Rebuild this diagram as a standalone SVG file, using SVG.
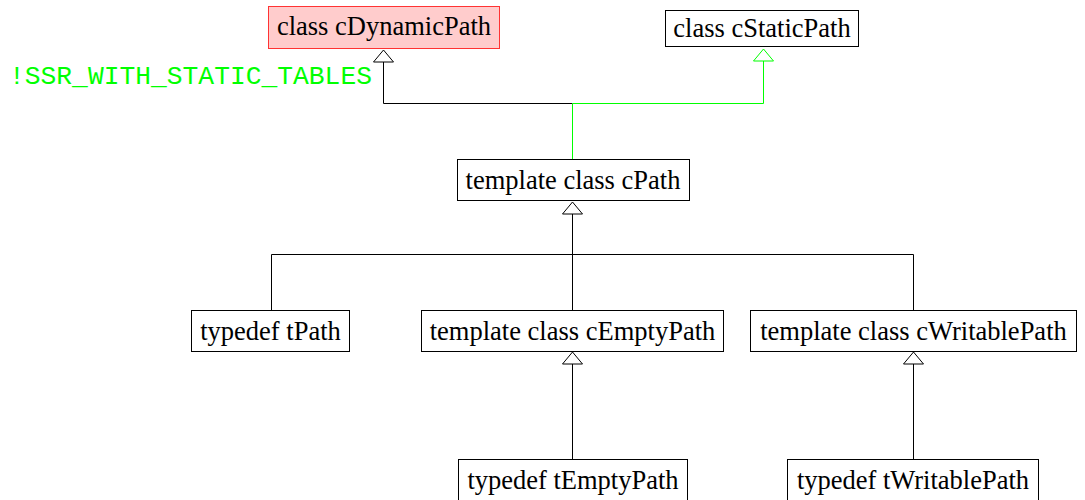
<svg xmlns="http://www.w3.org/2000/svg" width="1085" height="500" viewBox="0 0 1085 500">
  <style>
    .box { fill: #ffffff; stroke: #000000; stroke-width: 1; }
    .hl { fill: #ffcccc; stroke: #ff3333; stroke-width: 1; }
    .lbl { font-family: "Liberation Serif", "Times New Roman", serif; font-size: 26.5px; fill: #000000; text-anchor: middle; }
    .edge { fill: none; stroke: #000000; stroke-width: 1; }
    .edge-g { fill: none; stroke: #00ff00; stroke-width: 1; }
    .head { fill: #ffffff; stroke: #000000; stroke-width: 1; }
    .head-g { fill: #ffffff; stroke: #00ff00; stroke-width: 1; }
    .cond { font-family: "Liberation Mono", "Courier New", monospace; font-size: 26.3px; fill: #00ff00; }
  </style>

  <g id="edges">
    <!-- cPath -> cDynamicPath -->
    <path class="edge" d="M572.5,103.5 H383.5 V62"/>
    <polygon class="head" points="383.5,50 373.5,62 393.5,62"/>
    <!-- cPath -> cStaticPath (conditional) -->
    <path class="edge-g" d="M572.5,159 V103.5 H763.5 V61"/>
    <polygon class="head-g" points="763.5,49 753.5,61 773.5,61"/>
    <text class="cond" x="9" y="84">!SSR_WITH_STATIC_TABLES</text>
    <!-- children -> cPath -->
    <path class="edge" d="M271.5,310 V254.5 H913.5 V310"/>
    <path class="edge" d="M572.5,310 V214"/>
    <polygon class="head" points="572.5,202 562.5,214 582.5,214"/>
    <!-- tEmptyPath -> cEmptyPath -->
    <path class="edge" d="M572.5,459 V364"/>
    <polygon class="head" points="572.5,352 562.5,364 582.5,364"/>
    <!-- tWritablePath -> cWritablePath -->
    <path class="edge" d="M913.5,459 V364"/>
    <polygon class="head" points="913.5,352 903.5,364 923.5,364"/>
  </g>

  <g id="cDynamicPath">
    <rect class="hl" x="268.5" y="6.5" width="231" height="42"/>
    <text class="lbl" x="384" y="35">class cDynamicPath</text>
  </g>
  <g id="cStaticPath">
    <rect class="box" x="665.5" y="10.5" width="193" height="36"/>
    <text class="lbl" x="762" y="37">class cStaticPath</text>
  </g>
  <g id="cPath">
    <rect class="box" x="457.5" y="159.5" width="232" height="41"/>
    <text class="lbl" x="573" y="189">template class cPath</text>
  </g>
  <g id="tPath">
    <rect class="box" x="191.5" y="310.5" width="158" height="41"/>
    <text class="lbl" x="270.5" y="340">typedef tPath</text>
  </g>
  <g id="cEmptyPath">
    <rect class="box" x="421.5" y="310.5" width="302" height="41"/>
    <text class="lbl" x="572.5" y="340">template class cEmptyPath</text>
  </g>
  <g id="cWritablePath">
    <rect class="box" x="750.5" y="310.5" width="326" height="41"/>
    <text class="lbl" x="913.5" y="340">template class cWritablePath</text>
  </g>
  <g id="tEmptyPath">
    <rect class="box" x="458.5" y="459.5" width="229" height="41"/>
    <text class="lbl" x="573" y="489">typedef tEmptyPath</text>
  </g>
  <g id="tWritablePath">
    <rect class="box" x="787.5" y="459.5" width="251" height="41"/>
    <text class="lbl" x="913" y="489">typedef tWritablePath</text>
  </g>
</svg>
